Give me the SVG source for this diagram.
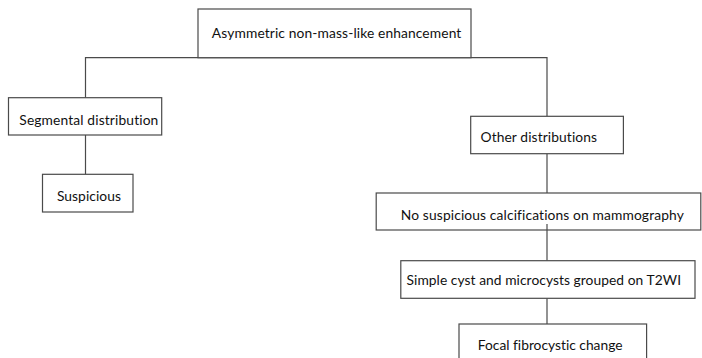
<svg xmlns="http://www.w3.org/2000/svg" width="702" height="358" viewBox="0 0 702 358">
<style>
.box{fill:#fff;stroke:#4a4a4a;stroke-width:1.2}
.ln{fill:none;stroke:#4a4a4a;stroke-width:1.2}
text{font-family:Lato,"Liberation Sans",sans-serif;font-size:13.8px;fill:#111;font-variant-ligatures:none}
</style>
<rect width="702" height="358" fill="#fff"/>
<g id="connectors">
<path class="ln" d="M85.5,97.7 V57.7 H547 V116.3"/>
<path class="ln" d="M85.5,135 V174.3"/>
<path class="ln" d="M547,153.7 V193"/>
<path class="ln" d="M547,224 V260.7"/>
<path class="ln" d="M547,298.3 V324"/>
</g>
<g id="n-root"><rect class="box" x="198" y="9" width="273" height="48.7"/><text x="211.8" y="38.3" textLength="249.5" lengthAdjust="spacing">Asymmetric non-mass-like enhancement</text></g>
<g id="n-segmental"><rect class="box" x="8.5" y="97.7" width="153.2" height="37.3"/><text x="19.3" y="124.5" textLength="139" lengthAdjust="spacing">Segmental distribution</text></g>
<g id="n-other"><rect class="box" x="470.7" y="116.3" width="152.7" height="37.4"/><text x="480.5" y="142" textLength="116.5" lengthAdjust="spacing">Other distributions</text></g>
<g id="n-suspicious"><rect class="box" x="42.5" y="174.3" width="90.5" height="37.7"/><text x="56.9" y="201" textLength="64" lengthAdjust="spacing">Suspicious</text></g>
<g id="n-nocalc"><rect class="box" x="376.2" y="193" width="324.6" height="37"/><text x="400.8" y="220" textLength="283" lengthAdjust="spacing">No suspicious calcifications on mammography</text></g>
<path class="ln" d="M547,224 V230"/>
<g id="n-cyst"><rect class="box" x="400.8" y="260.7" width="294.2" height="37.6"/><text x="406.6" y="284.5" textLength="274.4" lengthAdjust="spacing">Simple cyst and microcysts grouped on T2WI</text></g>
<g id="n-focal"><rect class="box" x="459" y="324" width="187.6" height="40"/><text x="477.8" y="349.5" textLength="144.7" lengthAdjust="spacing">Focal fibrocystic change</text></g>
</svg>
